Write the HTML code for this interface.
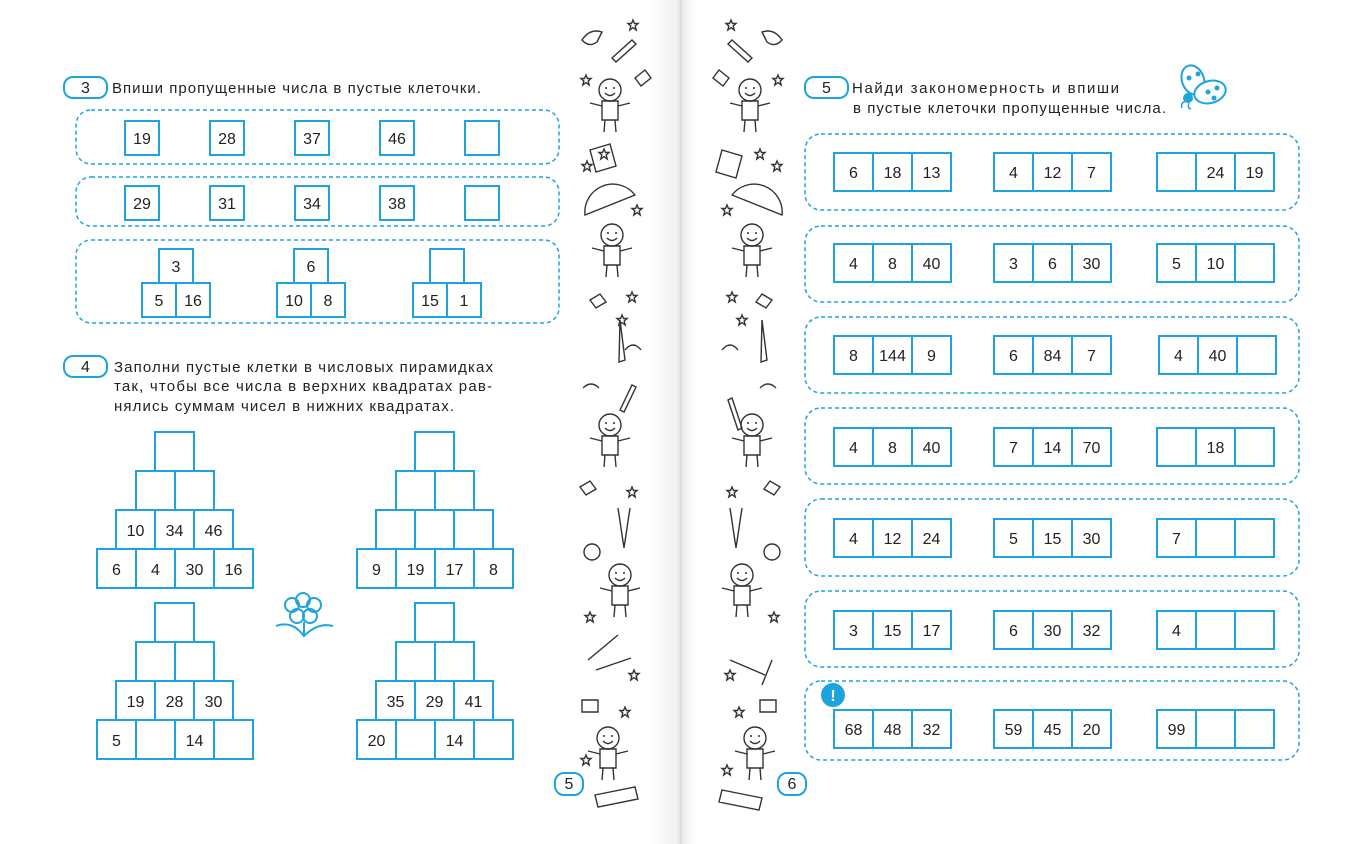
<!DOCTYPE html>
<html><head><meta charset="utf-8"><style>
html,body{margin:0;padding:0;background:#fff;}
svg{display:block;}
text{font-family:"Liberation Sans",sans-serif;fill:#222;}
.c{fill:#fff;stroke:#1ea4dd;stroke-width:2;}
.d{fill:none;stroke:#1ea4dd;stroke-width:1.5;stroke-dasharray:4 3;}
.n{font-size:16px;text-anchor:middle;}
.t{font-size:15px;}
.g{fill:none;stroke:#333;stroke-width:1.4;}
</style></head><body>
<svg width="1366" height="844" viewBox="0 0 1366 844" xmlns="http://www.w3.org/2000/svg">
<defs>
<linearGradient id="sh" x1="0" x2="1">
<stop offset="0" stop-color="#fff"/><stop offset="0.85" stop-color="#f0f0f0"/><stop offset="1" stop-color="#dadada"/>
</linearGradient>
<linearGradient id="sh2" x1="0" x2="1">
<stop offset="0" stop-color="#ececec"/><stop offset="1" stop-color="#fff"/>
</linearGradient>
<g id="star"><path class="g" d="M0,-5 L1.5,-1.5 L5,-1.5 L2.2,1 L3.2,5 L0,2.6 L-3.2,5 L-2.2,1 L-5,-1.5 L-1.5,-1.5Z"/></g>
<g id="kid"><circle class="g" cx="0" cy="0" r="11"/><path class="g" d="M-5,3 Q0,8 5,3 M-8,11 L-8,30 L8,30 L8,11 Z M-8,16 L-20,13 M8,16 L20,13 M-5,30 L-6,42 M5,30 L6,42"/><circle cx="-4" cy="-2" r="1" fill="#333"/><circle cx="4" cy="-2" r="1" fill="#333"/></g>
</defs>
<rect x="650" y="0" width="32" height="844" fill="url(#sh)"/>
<rect x="682" y="0" width="14" height="844" fill="url(#sh2)"/>

<!-- Task 3 -->
<rect x="64" y="77" width="43" height="21" rx="9" fill="#fff" stroke="#1ea4dd" stroke-width="2"/>
<text x="85.5" y="93" class="n" font-size="15">3</text>
<text x="112" y="93" class="t" textLength="369" lengthAdjust="spacing">Впиши пропущенные числа в пустые клеточки.</text>
<rect class="d" x="76" y="110" width="483" height="54" rx="15"/>
<rect class="d" x="76" y="177" width="483" height="49" rx="15"/>
<rect class="d" x="76" y="240" width="483" height="83" rx="15"/>
<g>
<rect class="c" x="125" y="121" width="34" height="34"/><text class="n" x="142" y="144">19</text>
<rect class="c" x="210" y="121" width="34" height="34"/><text class="n" x="227" y="144">28</text>
<rect class="c" x="295" y="121" width="34" height="34"/><text class="n" x="312" y="144">37</text>
<rect class="c" x="380" y="121" width="34" height="34"/><text class="n" x="397" y="144">46</text>
<rect class="c" x="465" y="121" width="34" height="34"/>
<rect class="c" x="125" y="186" width="34" height="34"/><text class="n" x="142" y="209">29</text>
<rect class="c" x="210" y="186" width="34" height="34"/><text class="n" x="227" y="209">31</text>
<rect class="c" x="295" y="186" width="34" height="34"/><text class="n" x="312" y="209">34</text>
<rect class="c" x="380" y="186" width="34" height="34"/><text class="n" x="397" y="209">38</text>
<rect class="c" x="465" y="186" width="34" height="34"/>
</g>
<g>
<rect class="c" x="159" y="249" width="34" height="34"/><text class="n" x="176" y="272">3</text>
<rect class="c" x="142" y="283" width="34" height="34"/><text class="n" x="159" y="306">5</text>
<rect class="c" x="176" y="283" width="34" height="34"/><text class="n" x="193" y="306">16</text>
<rect class="c" x="294" y="249" width="34" height="34"/><text class="n" x="311" y="272">6</text>
<rect class="c" x="277" y="283" width="34" height="34"/><text class="n" x="294" y="306">10</text>
<rect class="c" x="311" y="283" width="34" height="34"/><text class="n" x="328" y="306">8</text>
<rect class="c" x="430" y="249" width="34" height="34"/>
<rect class="c" x="413" y="283" width="34" height="34"/><text class="n" x="430" y="306">15</text>
<rect class="c" x="447" y="283" width="34" height="34"/><text class="n" x="464" y="306">1</text>
</g>

<!-- Task 4 -->
<rect x="64" y="356" width="43" height="21" rx="9" fill="#fff" stroke="#1ea4dd" stroke-width="2"/>
<text x="85.5" y="372" class="n" font-size="15">4</text>
<text x="114" y="372" class="t" textLength="379" lengthAdjust="spacing">Заполни пустые клетки в числовых пирамидках</text>
<text x="114" y="391" class="t" textLength="378" lengthAdjust="spacing">так, чтобы все числа в верхних квадратах рав-</text>
<text x="114" y="411" class="t" textLength="340" lengthAdjust="spacing">нялись суммам чисел в нижних квадратах.</text>

<!-- pyramid 1 -->
<g>
<rect class="c" x="155" y="432" width="39" height="39"/>
<rect class="c" x="136" y="471" width="39" height="39"/><rect class="c" x="175" y="471" width="39" height="39"/>
<rect class="c" x="116" y="510" width="39" height="39"/><rect class="c" x="155" y="510" width="39" height="39"/><rect class="c" x="194" y="510" width="39" height="39"/>
<text class="n" x="135.5" y="536">10</text><text class="n" x="174.5" y="536">34</text><text class="n" x="213.5" y="536">46</text>
<rect class="c" x="97" y="549" width="39" height="39"/><rect class="c" x="136" y="549" width="39" height="39"/><rect class="c" x="175" y="549" width="39" height="39"/><rect class="c" x="214" y="549" width="39" height="39"/>
<text class="n" x="116.5" y="575">6</text><text class="n" x="155.5" y="575">4</text><text class="n" x="194.5" y="575">30</text><text class="n" x="233.5" y="575">16</text>
</g>
<!-- pyramid 2 -->
<g>
<rect class="c" x="415" y="432" width="39" height="39"/>
<rect class="c" x="396" y="471" width="39" height="39"/><rect class="c" x="435" y="471" width="39" height="39"/>
<rect class="c" x="376" y="510" width="39" height="39"/><rect class="c" x="415" y="510" width="39" height="39"/><rect class="c" x="454" y="510" width="39" height="39"/>
<rect class="c" x="357" y="549" width="39" height="39"/><rect class="c" x="396" y="549" width="39" height="39"/><rect class="c" x="435" y="549" width="39" height="39"/><rect class="c" x="474" y="549" width="39" height="39"/>
<text class="n" x="376.5" y="575">9</text><text class="n" x="415.5" y="575">19</text><text class="n" x="454.5" y="575">17</text><text class="n" x="493.5" y="575">8</text>
</g>
<!-- pyramid 3 -->
<g>
<rect class="c" x="155" y="603" width="39" height="39"/>
<rect class="c" x="136" y="642" width="39" height="39"/><rect class="c" x="175" y="642" width="39" height="39"/>
<rect class="c" x="116" y="681" width="39" height="39"/><rect class="c" x="155" y="681" width="39" height="39"/><rect class="c" x="194" y="681" width="39" height="39"/>
<text class="n" x="135.5" y="707">19</text><text class="n" x="174.5" y="707">28</text><text class="n" x="213.5" y="707">30</text>
<rect class="c" x="97" y="720" width="39" height="39"/><rect class="c" x="136" y="720" width="39" height="39"/><rect class="c" x="175" y="720" width="39" height="39"/><rect class="c" x="214" y="720" width="39" height="39"/>
<text class="n" x="116.5" y="746">5</text><text class="n" x="194.5" y="746">14</text>
</g>
<!-- pyramid 4 -->
<g>
<rect class="c" x="415" y="603" width="39" height="39"/>
<rect class="c" x="396" y="642" width="39" height="39"/><rect class="c" x="435" y="642" width="39" height="39"/>
<rect class="c" x="376" y="681" width="39" height="39"/><rect class="c" x="415" y="681" width="39" height="39"/><rect class="c" x="454" y="681" width="39" height="39"/>
<text class="n" x="395.5" y="707">35</text><text class="n" x="434.5" y="707">29</text><text class="n" x="473.5" y="707">41</text>
<rect class="c" x="357" y="720" width="39" height="39"/><rect class="c" x="396" y="720" width="39" height="39"/><rect class="c" x="435" y="720" width="39" height="39"/><rect class="c" x="474" y="720" width="39" height="39"/>
<text class="n" x="376.5" y="746">20</text><text class="n" x="454.5" y="746">14</text>
</g>
<!-- flower -->
<g fill="none" stroke="#1ea4dd" stroke-width="2">
<circle cx="303" cy="600" r="7"/><circle cx="292" cy="605" r="7"/><circle cx="314" cy="605" r="7"/><circle cx="297" cy="616" r="7"/><circle cx="310" cy="616" r="7"/>
<path d="M304,622 L304,636 M276,626 Q292,620 304,636 Q318,622 333,626"/>
</g>

<!-- Task 5 -->
<rect x="805" y="77" width="43" height="21" rx="9" fill="#fff" stroke="#1ea4dd" stroke-width="2"/>
<text x="826.5" y="93" class="n" font-size="15">5</text>
<text x="852" y="93" class="t" textLength="267" lengthAdjust="spacing">Найди закономерность и впиши</text>
<text x="853" y="113" class="t" textLength="313" lengthAdjust="spacing">в пустые клеточки пропущенные числа.</text>
<!-- ladybug -->
<g stroke="#1ea4dd" stroke-width="2" fill="#fff">
<ellipse cx="1193" cy="80" rx="11" ry="15" transform="rotate(-20 1193 80)"/>
<ellipse cx="1210" cy="92" rx="16" ry="11" transform="rotate(-15 1210 92)"/>
<circle cx="1188" cy="98" r="4" fill="#1ea4dd"/>
<circle cx="1189" cy="78" r="1.5" fill="#1ea4dd"/><circle cx="1198" cy="74" r="1.5" fill="#1ea4dd"/><circle cx="1208" cy="92" r="1.5" fill="#1ea4dd"/><circle cx="1217" cy="88" r="1.5" fill="#1ea4dd"/><circle cx="1214" cy="98" r="1.5" fill="#1ea4dd"/>
<path d="M1186,101 q-6,2 -4,7 M1189,103 q-2,5 2,6" fill="none" stroke-width="1.5"/>
</g>

<g>
<rect class="d" x="805" y="134" width="494" height="76" rx="16"/>
<rect class="d" x="805" y="226" width="494" height="76" rx="16"/>
<rect class="d" x="805" y="317" width="494" height="76" rx="16"/>
<rect class="d" x="805" y="408" width="494" height="76" rx="16"/>
<rect class="d" x="805" y="499" width="494" height="77" rx="16"/>
<rect class="d" x="805" y="591" width="494" height="76" rx="16"/>
<rect class="d" x="805" y="681" width="494" height="79" rx="16"/>
</g>
<g>
<rect class="c" x="834" y="153" width="39" height="38"/><rect class="c" x="873" y="153" width="39" height="38"/><rect class="c" x="912" y="153" width="39" height="38"/>
<text class="n" x="853.5" y="178">6</text><text class="n" x="892.5" y="178">18</text><text class="n" x="931.5" y="178">13</text>
<rect class="c" x="994" y="153" width="39" height="38"/><rect class="c" x="1033" y="153" width="39" height="38"/><rect class="c" x="1072" y="153" width="39" height="38"/>
<text class="n" x="1013.5" y="178">4</text><text class="n" x="1052.5" y="178">12</text><text class="n" x="1091.5" y="178">7</text>
<rect class="c" x="1157" y="153" width="39" height="38"/><rect class="c" x="1196" y="153" width="39" height="38"/><rect class="c" x="1235" y="153" width="39" height="38"/>
<text class="n" x="1215.5" y="178">24</text><text class="n" x="1254.5" y="178">19</text>
<rect class="c" x="834" y="244" width="39" height="38"/><rect class="c" x="873" y="244" width="39" height="38"/><rect class="c" x="912" y="244" width="39" height="38"/>
<text class="n" x="853.5" y="269">4</text><text class="n" x="892.5" y="269">8</text><text class="n" x="931.5" y="269">40</text>
<rect class="c" x="994" y="244" width="39" height="38"/><rect class="c" x="1033" y="244" width="39" height="38"/><rect class="c" x="1072" y="244" width="39" height="38"/>
<text class="n" x="1013.5" y="269">3</text><text class="n" x="1052.5" y="269">6</text><text class="n" x="1091.5" y="269">30</text>
<rect class="c" x="1157" y="244" width="39" height="38"/><rect class="c" x="1196" y="244" width="39" height="38"/><rect class="c" x="1235" y="244" width="39" height="38"/>
<text class="n" x="1176.5" y="269">5</text><text class="n" x="1215.5" y="269">10</text>
<rect class="c" x="834" y="336" width="39" height="38"/><rect class="c" x="873" y="336" width="39" height="38"/><rect class="c" x="912" y="336" width="39" height="38"/>
<text class="n" x="853.5" y="361">8</text><text class="n" x="892.5" y="361">144</text><text class="n" x="931.5" y="361">9</text>
<rect class="c" x="994" y="336" width="39" height="38"/><rect class="c" x="1033" y="336" width="39" height="38"/><rect class="c" x="1072" y="336" width="39" height="38"/>
<text class="n" x="1013.5" y="361">6</text><text class="n" x="1052.5" y="361">84</text><text class="n" x="1091.5" y="361">7</text>
<rect class="c" x="1159" y="336" width="39" height="38"/><rect class="c" x="1198" y="336" width="39" height="38"/><rect class="c" x="1237" y="336" width="39" height="38"/>
<text class="n" x="1178.5" y="361">4</text><text class="n" x="1217.5" y="361">40</text>
<rect class="c" x="834" y="428" width="39" height="38"/><rect class="c" x="873" y="428" width="39" height="38"/><rect class="c" x="912" y="428" width="39" height="38"/>
<text class="n" x="853.5" y="453">4</text><text class="n" x="892.5" y="453">8</text><text class="n" x="931.5" y="453">40</text>
<rect class="c" x="994" y="428" width="39" height="38"/><rect class="c" x="1033" y="428" width="39" height="38"/><rect class="c" x="1072" y="428" width="39" height="38"/>
<text class="n" x="1013.5" y="453">7</text><text class="n" x="1052.5" y="453">14</text><text class="n" x="1091.5" y="453">70</text>
<rect class="c" x="1157" y="428" width="39" height="38"/><rect class="c" x="1196" y="428" width="39" height="38"/><rect class="c" x="1235" y="428" width="39" height="38"/>
<text class="n" x="1215.5" y="453">18</text>
<rect class="c" x="834" y="519" width="39" height="38"/><rect class="c" x="873" y="519" width="39" height="38"/><rect class="c" x="912" y="519" width="39" height="38"/>
<text class="n" x="853.5" y="544">4</text><text class="n" x="892.5" y="544">12</text><text class="n" x="931.5" y="544">24</text>
<rect class="c" x="994" y="519" width="39" height="38"/><rect class="c" x="1033" y="519" width="39" height="38"/><rect class="c" x="1072" y="519" width="39" height="38"/>
<text class="n" x="1013.5" y="544">5</text><text class="n" x="1052.5" y="544">15</text><text class="n" x="1091.5" y="544">30</text>
<rect class="c" x="1157" y="519" width="39" height="38"/><rect class="c" x="1196" y="519" width="39" height="38"/><rect class="c" x="1235" y="519" width="39" height="38"/>
<text class="n" x="1176.5" y="544">7</text>
<rect class="c" x="834" y="611" width="39" height="38"/><rect class="c" x="873" y="611" width="39" height="38"/><rect class="c" x="912" y="611" width="39" height="38"/>
<text class="n" x="853.5" y="636">3</text><text class="n" x="892.5" y="636">15</text><text class="n" x="931.5" y="636">17</text>
<rect class="c" x="994" y="611" width="39" height="38"/><rect class="c" x="1033" y="611" width="39" height="38"/><rect class="c" x="1072" y="611" width="39" height="38"/>
<text class="n" x="1013.5" y="636">6</text><text class="n" x="1052.5" y="636">30</text><text class="n" x="1091.5" y="636">32</text>
<rect class="c" x="1157" y="611" width="39" height="38"/><rect class="c" x="1196" y="611" width="39" height="38"/><rect class="c" x="1235" y="611" width="39" height="38"/>
<text class="n" x="1176.5" y="636">4</text>
<rect class="c" x="834" y="710" width="39" height="38"/><rect class="c" x="873" y="710" width="39" height="38"/><rect class="c" x="912" y="710" width="39" height="38"/>
<text class="n" x="853.5" y="735">68</text><text class="n" x="892.5" y="735">48</text><text class="n" x="931.5" y="735">32</text>
<rect class="c" x="994" y="710" width="39" height="38"/><rect class="c" x="1033" y="710" width="39" height="38"/><rect class="c" x="1072" y="710" width="39" height="38"/>
<text class="n" x="1013.5" y="735">59</text><text class="n" x="1052.5" y="735">45</text><text class="n" x="1091.5" y="735">20</text>
<rect class="c" x="1157" y="710" width="39" height="38"/><rect class="c" x="1196" y="710" width="39" height="38"/><rect class="c" x="1235" y="710" width="39" height="38"/>
<text class="n" x="1176.5" y="735">99</text>
</g>
<circle cx="833" cy="695" r="12" fill="#1ea4dd"/>
<text x="833" y="701" class="n" style="fill:#fff;font-weight:bold" font-size="17">!</text>

<rect x="555" y="773" width="28" height="22" rx="9" fill="#fff" stroke="#1ea4dd" stroke-width="2"/>
<text x="569" y="789" class="n" font-size="14">5</text>
<rect x="778" y="773" width="28" height="22" rx="9" fill="#fff" stroke="#1ea4dd" stroke-width="2"/>
<text x="792" y="789" class="n" font-size="14">6</text>

<g>
<use href="#star" x="633" y="25"/><use href="#star" x="586" y="80"/><use href="#star" x="604" y="154"/><use href="#star" x="587" y="166"/><use href="#star" x="637" y="210"/><use href="#star" x="632" y="297"/><use href="#star" x="622" y="320"/><use href="#star" x="632" y="492"/><use href="#star" x="590" y="617"/><use href="#star" x="634" y="675"/><use href="#star" x="625" y="712"/><use href="#star" x="586" y="760"/>
<use href="#kid" x="610" y="90"/><use href="#kid" x="612" y="235"/><use href="#kid" x="610" y="425"/><use href="#kid" x="620" y="575"/><use href="#kid" x="608" y="738"/>
<path class="g" d="M582,40 q8,-12 20,-8 l-5,10 q-8,6 -15,-2z M612,58 l20,-18 l4,4 l-20,18z M635,78 l10,-8 l6,8 l-10,8z M585,215 a28,28 0 0 1 50,-20z M590,150 l20,-6 l6,22 l-20,6z M590,300 l10,-6 l6,8 l-10,6z M620,320 l5,40 l-6,2z M625,350 q8,-10 16,0 M583,388 q8,-8 16,0 M620,410 l12,-25 l4,2 l-12,25z M580,487 l10,-6 l6,8 l-10,6z M618,508 l6,40 M630,508 l-6,40 M584,552 a8,8 0 1 0 16,0 a8,8 0 1 0 -16,0 M588,660 l30,-25 M596,670 l35,-12 M582,700 l16,0 l0,12 l-16,0z M595,795 l40,-8 l3,12 l-40,8z"/>
</g>
<g>
<use href="#star" x="731" y="25"/><use href="#star" x="778" y="80"/><use href="#star" x="760" y="154"/><use href="#star" x="777" y="166"/><use href="#star" x="727" y="210"/><use href="#star" x="732" y="297"/><use href="#star" x="742" y="320"/><use href="#star" x="732" y="492"/><use href="#star" x="774" y="617"/><use href="#star" x="730" y="675"/><use href="#star" x="739" y="712"/><use href="#star" x="727" y="770"/>
<use href="#kid" x="750" y="90"/><use href="#kid" x="752" y="235"/><use href="#kid" x="752" y="425"/><use href="#kid" x="742" y="575"/><use href="#kid" x="755" y="738"/>
<path class="g" d="M782,40 q-8,-12 -20,-8 l5,10 q8,6 15,-2z M752,58 l-20,-18 l-4,4 l20,18z M729,78 l-10,-8 l-6,8 l10,8z M782,215 a28,28 0 0 0 -50,-20z M722,150 l20,6 l-6,22 l-20,-6z M772,300 l-10,-6 l-6,8 l10,6z M762,320 l5,40 l-6,2z M722,350 q8,-10 16,0 M760,388 q8,-8 16,0 M728,400 l10,30 l4,-2 l-10,-30z M780,487 l-10,-6 l-6,8 l10,6z M730,508 l6,40 M742,508 l-6,40 M764,552 a8,8 0 1 0 16,0 a8,8 0 1 0 -16,0 M730,660 l35,15 M772,660 l-10,25 M760,700 l16,0 l0,12 l-16,0z M722,790 l40,8 l-3,12 l-40,-8z"/>
</g>
</svg>
</body></html>
